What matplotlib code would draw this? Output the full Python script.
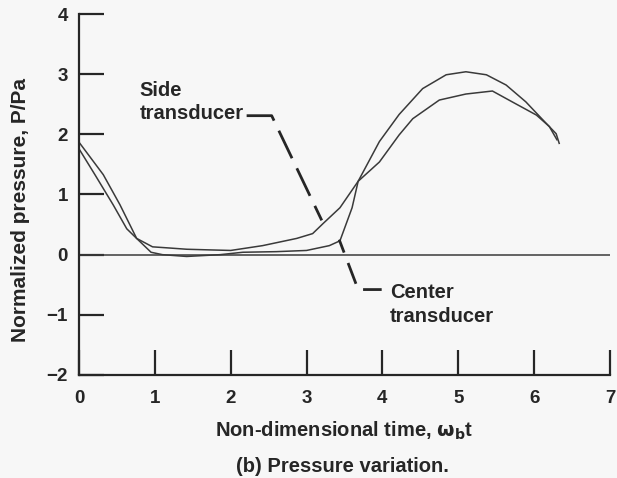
import matplotlib
matplotlib.use('Agg')

import matplotlib.pyplot as plt

plt.rcParams['font.family'] = ['Liberation Sans', 'DejaVu Sans']
plt.rcParams['font.weight'] = 'bold'
plt.rcParams['axes.labelweight'] = 'bold'
plt.rcParams['mathtext.default'] = 'bf'

# side transducer trace
side_t = [0.0, 0.21, 0.45, 0.63, 0.76, 0.97, 1.2, 1.42, 1.7, 2.0, 2.42, 2.87,
          3.08, 3.22, 3.44, 3.68, 3.82, 3.96, 4.22, 4.4, 4.75, 5.1, 5.45,
          5.71, 6.03, 6.2, 6.3]
side_p = [1.76, 1.33, 0.83, 0.43, 0.27, 0.13, 0.11, 0.09, 0.08, 0.07, 0.15, 0.27,
          0.35, 0.52, 0.78, 1.22, 1.38, 1.54, 1.99, 2.26, 2.57, 2.67, 2.72,
          2.54, 2.32, 2.13, 1.91]

# center transducer trace
center_t = [0.0, 0.32, 0.54, 0.76, 0.95, 1.1, 1.42, 1.86, 2.16, 2.6, 3.0, 3.3,
            3.44, 3.6, 3.68, 3.96, 4.22, 4.53, 4.84, 5.1, 5.37, 5.63, 5.89,
            6.1, 6.29, 6.33]
center_p = [1.87, 1.33, 0.83, 0.27, 0.04, 0.0, -0.03, 0.0, 0.04, 0.05, 0.07, 0.15,
            0.23, 0.78, 1.22, 1.88, 2.33, 2.76, 2.99, 3.04, 2.99, 2.82, 2.54,
            2.26, 2.01, 1.85]

x_ticks = [0, 1, 2, 3, 4, 5, 6, 7]
y_ticks = [-2, -1, 0, 1, 2, 3, 4]
y_tick_labels = ['\u22122', '\u22121', '0', '1', '2', '3', '4']

# leader lines for the labels
side_leader_t = [2.21, 2.54, 3.20]
side_leader_p = [2.31, 2.31, 0.57]
center_leader_t = [3.43, 3.68, 3.99]
center_leader_p = [0.25, -0.58, -0.58]

ink = '#262626'
bg = '#f7f7f7'

fig = plt.figure(figsize=(6.17, 4.78), dpi=100, facecolor=bg)
ax = fig.add_axes([0.128, 0.2155, 0.8607, 0.7552], facecolor=bg)

ax.plot(side_t, side_p, color='#3a3a3a', lw=1.1)
ax.plot(center_t, center_p, color='#3a3a3a', lw=1.1)
ax.plot([0, 7], [0, 0], color='#3a3a3a', lw=1.1)

ax.plot(side_leader_t, side_leader_p, color=ink, lw=2.0, linestyle=(0, (11, 4)))
ax.plot(center_leader_t, center_leader_p, color=ink, lw=2.0, linestyle=(3, (8, 4)))

ax.text(0.80, 2.73, 'Side', fontsize=14.5, color=ink, va='center', ha='left')
ax.text(0.80, 2.34, 'transducer', fontsize=14.5, color=ink, va='center', ha='left')
ax.text(4.10, -0.63, 'Center', fontsize=14.5, color=ink, va='center', ha='left')
ax.text(4.10, -1.03, 'transducer', fontsize=14.5, color=ink, va='center', ha='left')

ax.set_xlim(0, 7)
ax.set_ylim(-2, 4)
ax.set_xticks(x_ticks)
ax.set_yticks(y_ticks)
ax.set_yticklabels(y_tick_labels)
ax.tick_params(direction='in', length=18, width=1.6, color=ink, labelcolor=ink,
               labelsize=13.5)
ax.tick_params(axis='x', pad=11)
ax.tick_params(axis='y', pad=8)

for s in ['top', 'right']:
    ax.spines[s].set_visible(False)
for s in ['left', 'bottom']:
    ax.spines[s].set_linewidth(1.6)
    ax.spines[s].set_color(ink)

ax.set_xlabel('Non-dimensional time, $\\mathbf{\\omega_b}$t', fontsize=14.5, color=ink,
              labelpad=9)
ax.set_ylabel('Normalized pressure, P/Pa', fontsize=15, color=ink)
ax.yaxis.set_label_coords(-0.093, 0.457)

fig.text(0.555, 0.025, '(b) Pressure variation.', fontsize=14.5, color=ink,
         ha='center', va='center')

fig.savefig('out.png', dpi=100, facecolor=bg)
